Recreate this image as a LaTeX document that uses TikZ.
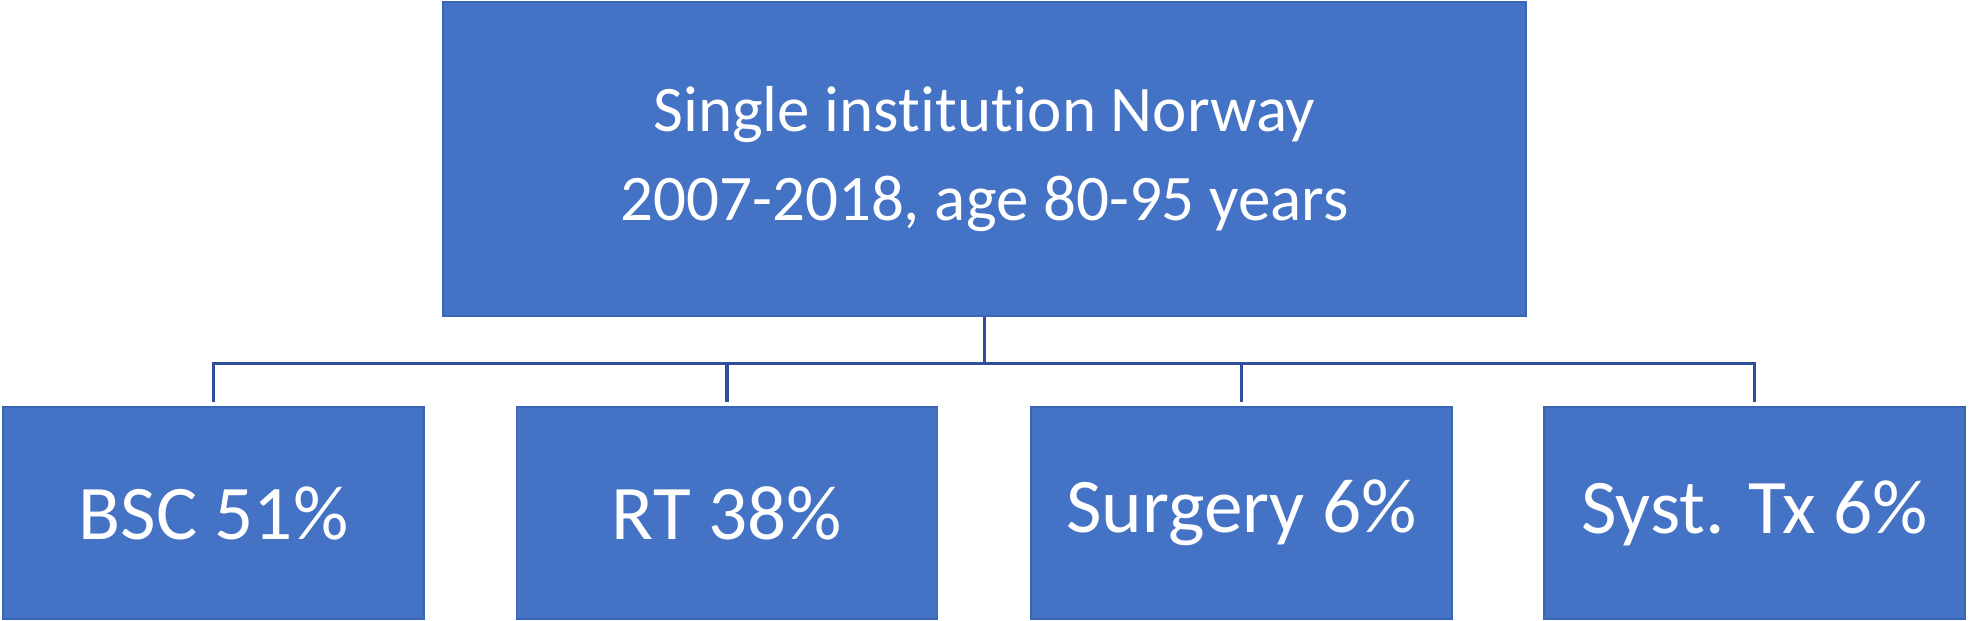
\documentclass[tikz,border=0pt]{standalone}
\usepackage{fontspec}
\setmainfont{Carlito}[RawFeature={-liga;-clig;-dlig}]
\usepackage{tikz}
\usepackage{xcolor}
\usetikzlibrary{positioning,calc}
\definecolor{boxblue}{HTML}{4472C4}
\definecolor{boxedge}{HTML}{3A65B5}
\definecolor{linkblue}{HTML}{2F4F9A}

\begin{document}
\begin{tikzpicture}[
  rootbox/.style={draw=boxedge,fill=boxblue,text=white,minimum width=10.83cm,minimum height=3.14cm,
                  align=center,font=\fontsize{18.5}{25.5}\selectfont,line width=0.4pt},
  leafbox/.style={draw=boxedge,fill=boxblue,text=white,minimum width=4.21cm,minimum height=2.12cm,
                  font=\fontsize{22}{26}\selectfont,line width=0.4pt},
  link/.style={draw=linkblue,line width=1pt}]
  \useasboundingbox (0,0) rectangle (19.69,-6.20);
  \node[rootbox] (top) at (9.845,-1.59) {Single inst\kern0pt itut\kern0pt ion Norway\\2007-2018, age 80-95 years};
  \node[leafbox] (bsc) at (2.135,-5.13) {BSC 51\%};
  \node[leafbox] (rt) at (7.27,-5.13) {RT 38\%};
  \node[leafbox] (surg) at (12.415,-5.13) {Surgery 6\%};
  \node[leafbox] (syst) at (17.545,-5.13) {Syst. Tx 6\%};
  \coordinate (bus) at ($(top.south)+(0,-0.47)$);
  \draw[link] (top.south) -- (bus);
  \foreach \c in {bsc,rt,surg,syst}{\draw[link] (bus) -| ($(\c.north)+(0,0.04)$);}
\end{tikzpicture}
\end{document}
